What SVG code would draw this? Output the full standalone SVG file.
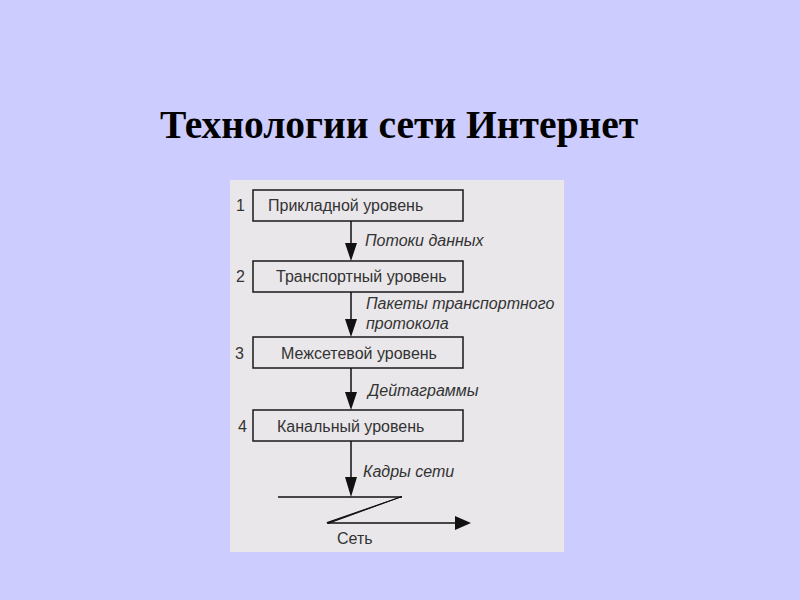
<svg xmlns="http://www.w3.org/2000/svg" width="800" height="600" viewBox="0 0 800 600">
<defs>
<style>
.box{fill:none;stroke:#1a1a1a;stroke-width:1.5}
.lbl{font-family:"Liberation Sans",Arial,sans-serif;font-size:16px;fill:#333}
.it{font-family:"Liberation Sans",Arial,sans-serif;font-size:16px;font-style:italic;fill:#333}
.ln{stroke:#111;stroke-width:1.5;fill:none}
</style>
</defs>
<rect width="800" height="600" fill="#ccccff"/>
<text x="399" y="138" text-anchor="middle" font-family="'Liberation Serif','Times New Roman',serif" font-weight="bold" font-size="39.5" fill="#000">Технологии сети Интернет</text>
<rect x="230" y="180" width="334" height="372" fill="#e9e7ea"/>
<g id="n1"><rect class="box" x="253" y="190" width="210" height="31"/><text class="lbl" x="268" y="211">Прикладной уровень</text><text class="lbl" x="236" y="211">1</text></g>
<g id="n2"><rect class="box" x="253" y="261" width="210" height="31"/><text class="lbl" x="276" y="282">Транспортный уровень</text><text class="lbl" x="236" y="282">2</text></g>
<g id="n3"><rect class="box" x="253" y="337" width="210" height="31"/><text class="lbl" x="281" y="359">Межсетевой уровень</text><text class="lbl" x="235" y="359">3</text></g>
<g id="n4"><rect class="box" x="253" y="410" width="210" height="31"/><text class="lbl" x="277" y="432">Канальный уровень</text><text class="lbl" x="238" y="432">4</text></g>
<g id="net">
<path class="ln" d="M278,497 H402"/>
<path class="ln" d="M327,523 H458"/>
<path d="M402,496.5 L327,522.5 L328,523.5 L398,498 Z" fill="#111" stroke="#111" stroke-width="1"/>
<path d="M455,516 L471,523 L455,530 Z" fill="#111"/>
<text class="lbl" x="337" y="544">Сеть</text>
</g>
<g id="connectors">
<line class="ln" x1="351" y1="221" x2="351" y2="245"/>
<path d="M345,243 L357,243 L351,261 Z" fill="#111"/>
<line class="ln" x1="351" y1="292" x2="351" y2="320"/>
<path d="M345,319 L357,319 L351,337 Z" fill="#111"/>
<line class="ln" x1="351" y1="368" x2="351" y2="393"/>
<path d="M345,392 L357,392 L351,410 Z" fill="#111"/>
<line class="ln" x1="351" y1="441" x2="351" y2="478"/>
<path d="M345,477 L357,477 L351,497 Z" fill="#111"/>
<text class="it" x="365" y="246">Потоки данных</text>
<text class="it" x="366" y="309">Пакеты транспортного</text>
<text class="it" x="366" y="329">протокола</text>
<text class="it" x="368" y="396">Дейтаграммы</text>
<text class="it" x="363" y="477">Кадры сети</text>
</g>
</svg>
